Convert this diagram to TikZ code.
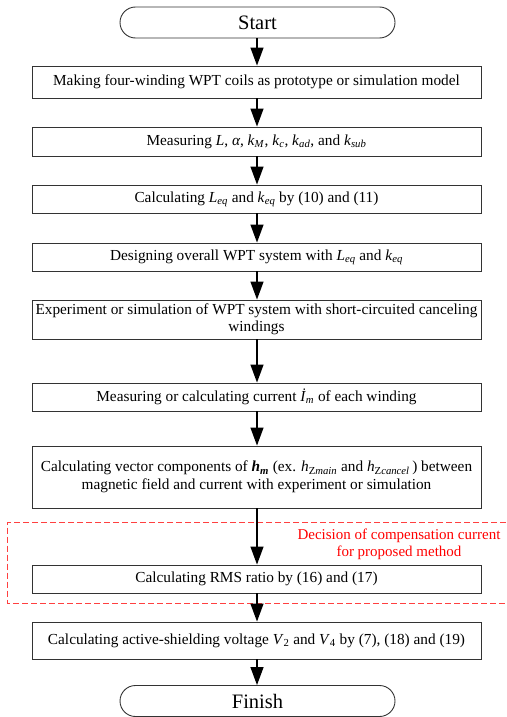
\documentclass[tikz,border=0pt]{standalone}
\usepackage{fontspec}
\setmainfont{Liberation Serif}
\usetikzlibrary{shapes.misc,arrows.meta}
\newcommand\iv[2]{\textit{#1}\textsubscript{\textit{#2}}}
\begin{document}
\begin{tikzpicture}[x=1pt,y=-1pt,
  procbox/.style={draw=black!80,line width=0.9pt,rectangle,minimum width=449pt,
    inner sep=0pt,align=center,font=\fontsize{15.3}{17.5}\selectfont},
  termbox/.style={draw=black!80,line width=0.9pt,rounded rectangle,minimum width=275pt,
    minimum height=31pt,inner sep=0pt,font=\fontsize{20.5}{24}\selectfont},
  flow/.style={line width=1.3pt,-{Triangle[length=18pt,width=13pt]}},
  redframe/.style={draw=red!75,line width=0.9pt,dash pattern=on 6pt off 3pt}]
\useasboundingbox (0,0) rectangle (506,717);
\node[termbox] (start) at (257.5,22.5) {Start};
\node[procbox,minimum height=32pt] (b1) at (256.5,82) {Making four-winding WPT coils as prototype or simulation model};
\node[procbox,minimum height=29pt] (b2) at (256.5,141.5) {Measuring \textit{L}, \textit{α}, \iv{k}{M}, \iv{k}{c}, \iv{k}{ad}, and \iv{k}{sub}};
\node[procbox,minimum height=28pt] (b3) at (256.5,199) {Calculating \iv{L}{eq} and \iv{k}{eq} by (10) and (11)};
\node[procbox,minimum height=28pt] (b4) at (256.5,257) {Designing overall WPT system with \iv{L}{eq} and \iv{k}{eq}};
\node[procbox,minimum height=39pt] (b5) at (256.5,319.5) {Experiment or simulation of WPT system with short-circuited canceling\\windings};
\node[procbox,minimum height=28pt] (b6) at (256.5,397) {Measuring or calculating current \textit{İ}\textsubscript{\textit{m}} of each winding};
\node[procbox,minimum height=62pt] (b7) at (256.5,477) {Calculating vector components of \textbf{\textit{h}}\textsubscript{\textbf{\textit{m}}} (ex. \textit{h}\textsubscript{Z\textit{main}} and \textit{h}\textsubscript{Z\textit{cancel}}\,) between\\magnetic field and current with experiment or simulation};
\node[procbox,minimum height=28pt] (b8) at (256.5,579) {Calculating RMS ratio by (16) and (17)};
\node[procbox,minimum height=37pt] (b9) at (256.5,640.5) {Calculating active-shielding voltage \textit{V}\textsubscript{2} and \textit{V}\textsubscript{4} by (7), (18) and (19)};
\node[termbox] (finish) at (257.5,701) {Finish};
\coordinate (rtr) at (506,522);
\coordinate (rtl) at (7.5,522);
\coordinate (rbl) at (7.5,603);
\coordinate (rbr) at (506,603);
\draw[redframe] (rtr) -- (rtl) -- (rbl) -- (rbr);
\node[text=red,align=center,font=\fontsize{15}{17}\selectfont] (redlbl) at (399,544.5) {Decision of compensation current\\for proposed method};
\foreach \a/\b in {start/b1,b1/b2,b2/b3,b3/b4,b4/b5,b5/b6,b6/b7,b7/b8,b8/b9,b9/finish}
  \draw[flow] (\a.south -| 257,0) -- (\b.north -| 257,0);
\end{tikzpicture}
\end{document}
